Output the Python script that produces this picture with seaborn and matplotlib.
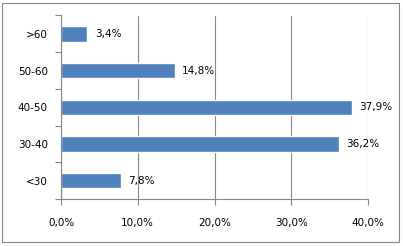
import matplotlib
matplotlib.use("Agg")
import matplotlib.pyplot as plt
import seaborn as sns
import pandas as pd
import numpy as np
from matplotlib.patches import Rectangle
from matplotlib.ticker import FixedLocator, FuncFormatter

categories = [">60", "50-60", "40-50", "30-40", "<30"]
values = [3.4, 14.8, 37.9, 36.2, 7.8]
x_ticks = [0, 10, 20, 30, 40]
x_tick_labels = ["0,0%", "10,0%", "20,0%", "30,0%", "40,0%"]

sns.set_style("white")
plt.rcParams['font.family'] = ['DejaVu Sans']

df = pd.DataFrame({"cat": categories, "val": values})

fig = plt.figure(figsize=(4.03, 2.46), dpi=100)
ax = fig.add_axes([61/403, 1-199/246, (368-61)/403, (199-15.5)/246])

sns.barplot(data=df, x="val", y="cat", order=categories, orient="h",
            color="#4F81BD", saturation=1, width=0.42, ax=ax)

gray = "#868686"
ax.set_xlim(0, 40)
ax.set_ylim(len(categories)-0.5, -0.5)
ax.set_xticks(x_ticks)
ax.set_xticklabels(x_tick_labels)
ax.xaxis.grid(True, color=gray, linewidth=0.8)
ax.set_axisbelow(True)
ax.set_xlabel("")
ax.set_ylabel("")

for s in ["top", "right"]:
    ax.spines[s].set_visible(False)
for s in ["left", "bottom"]:
    ax.spines[s].set_color(gray)
    ax.spines[s].set_linewidth(0.8)

ax.tick_params(axis="x", direction="out", length=4, width=0.8, color=gray,
               pad=10, labelsize=7.5, labelcolor="#000000", bottom=True)
ax.tick_params(axis="y", which="major", length=0, pad=9.5, labelsize=7.5,
               labelcolor="#000000", left=True)
ax.yaxis.set_minor_locator(FixedLocator(np.arange(-0.5, len(categories), 1.0)))
ax.tick_params(axis="y", which="minor", direction="out", length=4, width=0.8,
               color=gray, left=True)

for i, v in enumerate(values):
    ax.text(v + 1.0, i, f"{v:.1f}%".replace(".", ","), va="center", ha="left",
            fontsize=7.5, color="#000000")

fig.patches.append(Rectangle((2/403, 4/246), 397/403, 239/246, transform=fig.transFigure,
                             fill=False, edgecolor=gray, linewidth=0.8))

fig.savefig("out.png", dpi=100)
